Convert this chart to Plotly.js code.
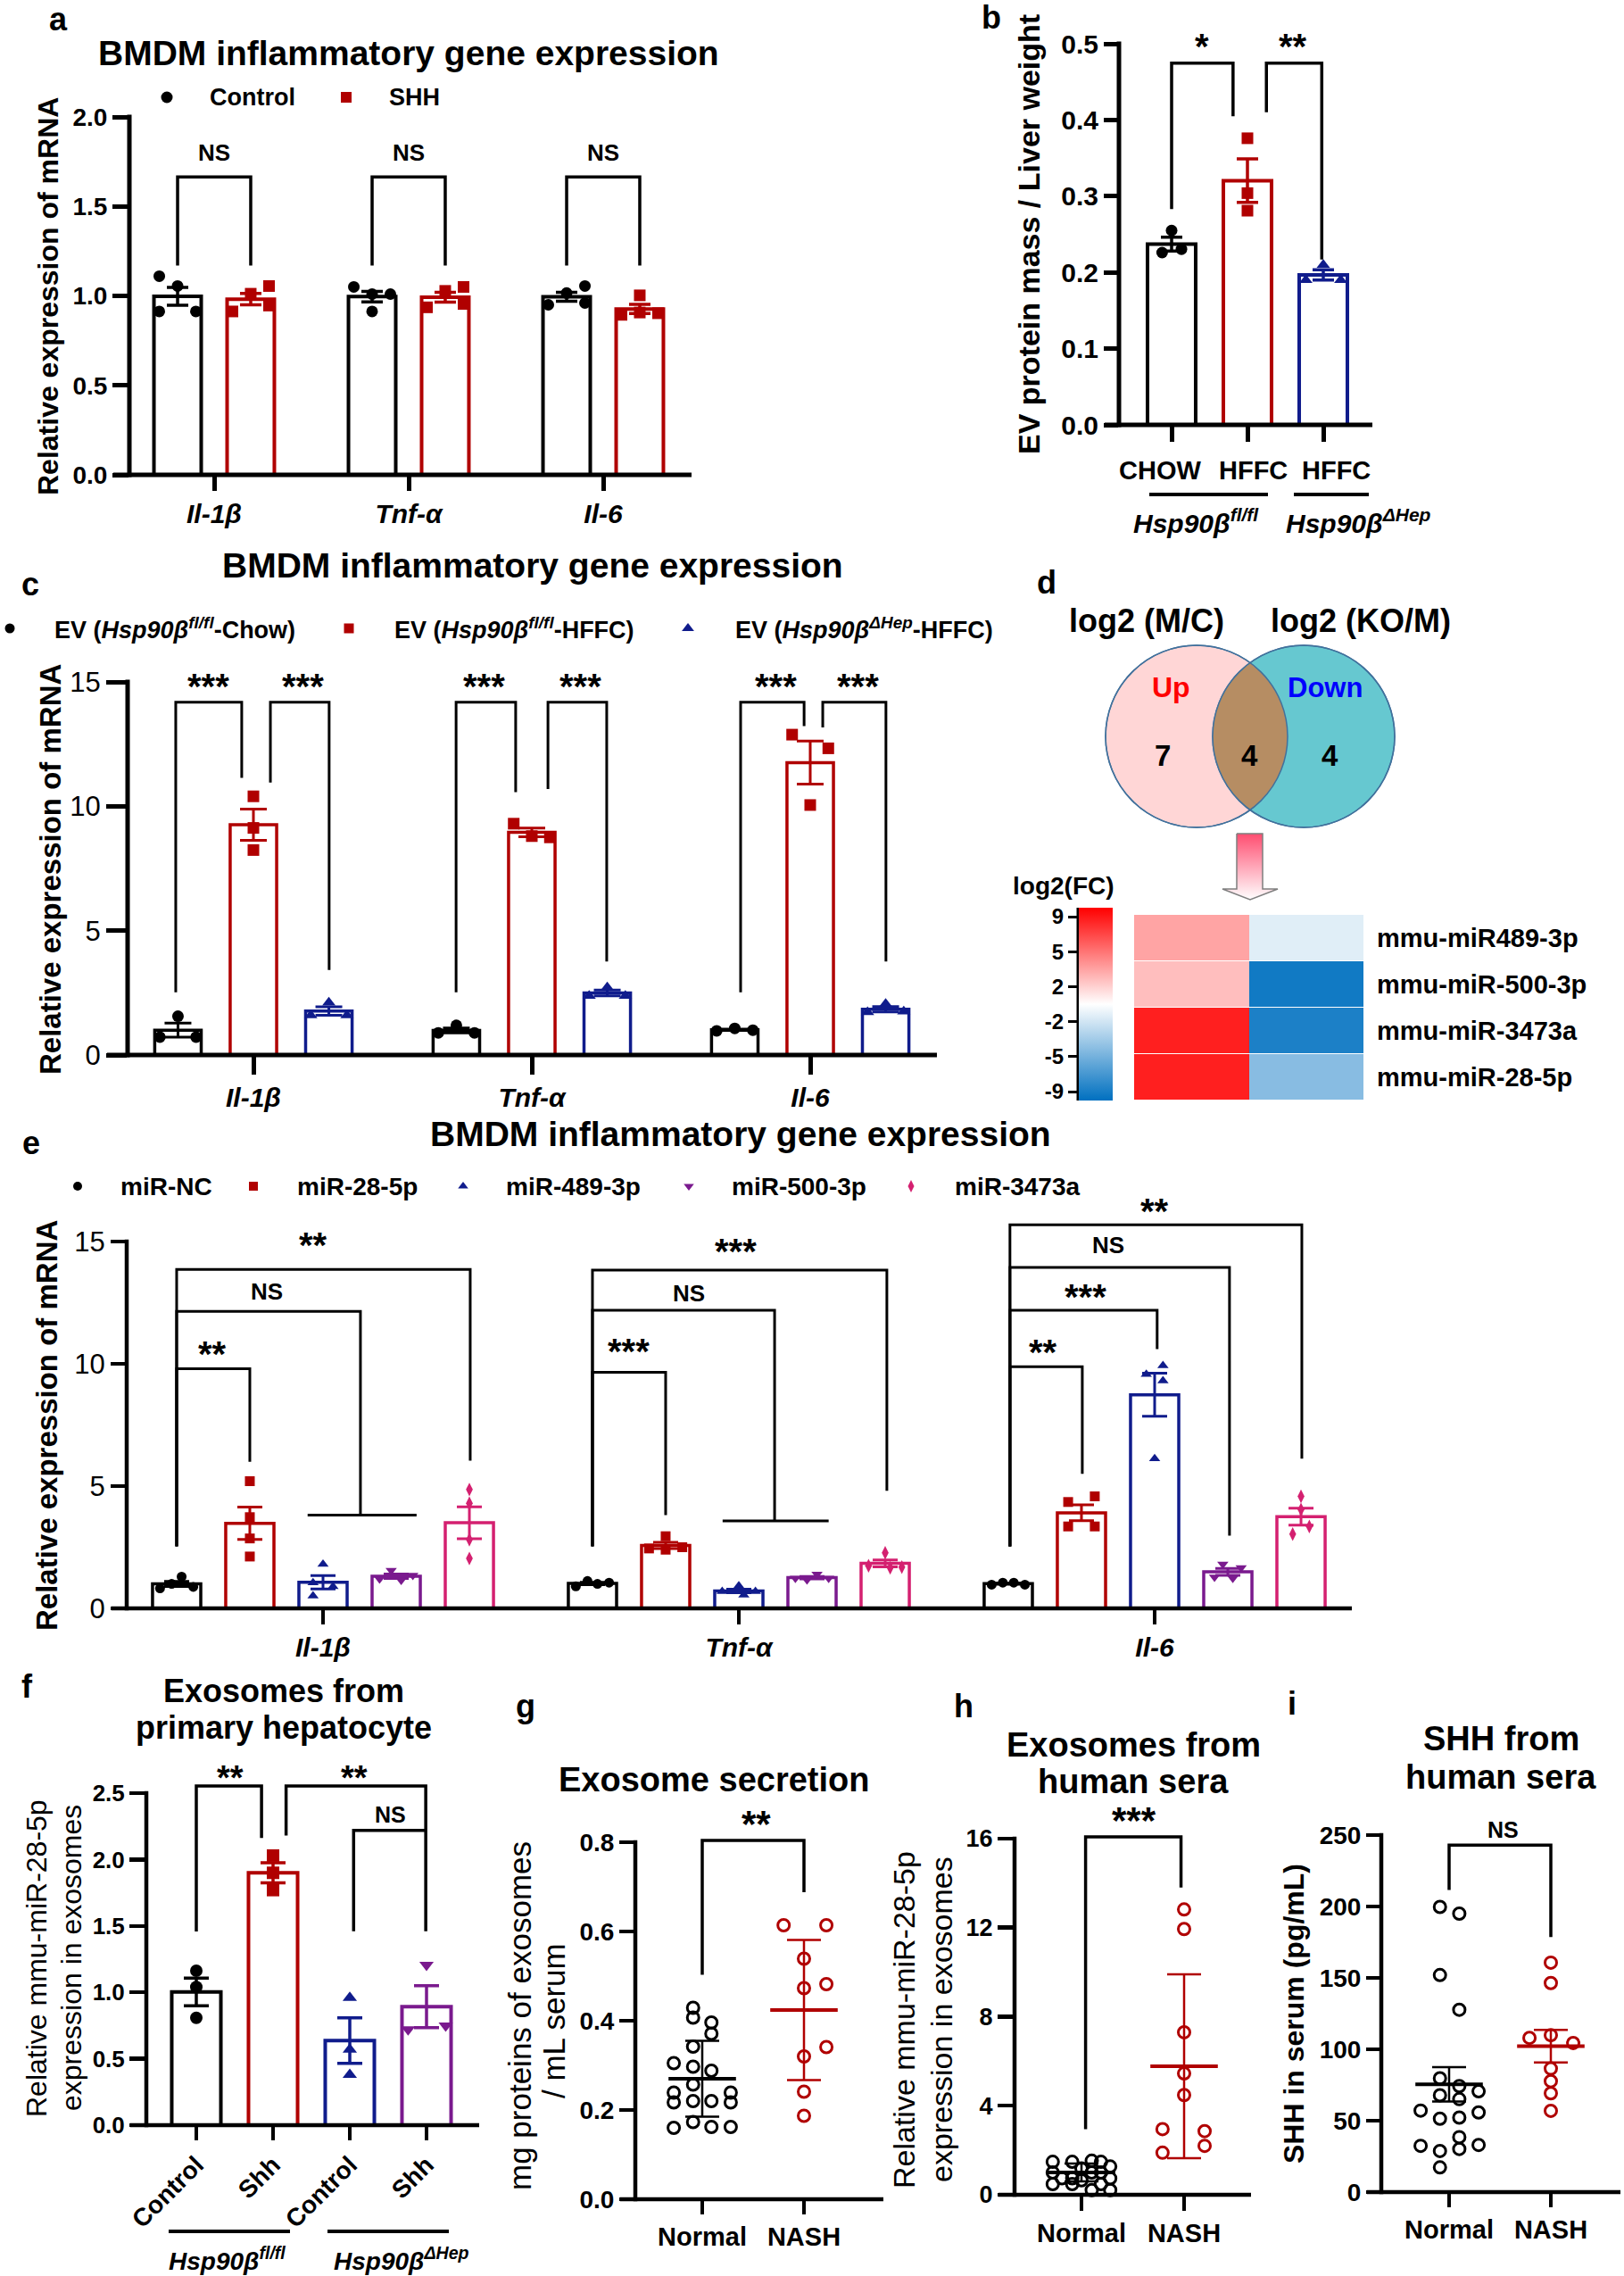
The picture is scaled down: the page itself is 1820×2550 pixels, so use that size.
<!DOCTYPE html>
<html><head><meta charset="utf-8">
<script src="https://cdn.plot.ly/plotly-3.0.1.min.js"></script>
<style>html,body{margin:0;padding:0;background:#fff}#fig{width:1820px;height:2550px}</style>
</head><body><div id="fig"></div>
<script>
/* ================= DATA ================= */
// panel a
const aGenes = ['Il-1β','Tnf-α','Il-6'];
const aLegend = ['Control','SHH'];
const aControl = [[1.11,1.055,0.913,0.913],[1.05,1.01,1.01,0.913],[0.95,1.016,1.055,0.96]];
const aSHH = [[0.913,1.012,1.055,0.946],[0.936,1.028,1.05,0.955],[0.894,1.003,0.907,0.903]];
const aYTicks = [0,0.5,1.0,1.5,2.0];
const aSig = ['NS','NS','NS'];
// panel b
const bGroups = ['CHOW','HFFC','HFFC'];
const bGenotypes = ['Hsp90β|fl/fl','Hsp90β|ΔHep'];
const bValues = [[0.255,0.226,0.2305],[0.376,0.304,0.281],[0.210,0.190,0.190]];
const bYTicks = [0,0.1,0.2,0.3,0.4,0.5];
const bSig = ['*','**'];
// panel c
const cGenes = ['Il-1β','Tnf-α','Il-6'];
const cLegend = ['EV (<i>Hsp90β</i><sup><i>fl/fl</i></sup>-Chow)','EV (<i>Hsp90β</i><sup><i>fl/fl</i></sup>-HFFC)','EV (<i>Hsp90β</i><sup><i>ΔHep</i></sup>-HFFC)'];
const cChow = [[1.56,0.72,0.72],[1.19,0.89,0.89],[0.97,1.07,1.0]];
const cHFFC = [[10.4,9.13,8.24],[9.3,8.8,8.75],[12.88,12.33,10.05]];
const cKO = [[2.11,1.60,1.60],[2.72,2.38,2.38],[2.05,1.72,1.75]];
const cYTicks = [0,5,10,15];
const cSig = ['***','***','***','***','***','***'];
// panel d
const dSets = ['log2 (M/C)','log2 (KO/M)'];
const dSetTags = ['Up','Down'];
const dVennCounts = [7,4,4];
const dMiRNAs = ['mmu-miR489-3p','mmu-miR-500-3p','mmu-miR-3473a','mmu-miR-28-5p'];
const dLog2MC = [3.2,2.3,7.9,7.9];
const dLog2KOM = [-1.1,-8.4,-8.0,-4.2];
const dScaleLabels = ['9','5','2','-2','-5','-9'];
// panel e
const eGenes = ['Il-1β','Tnf-α','Il-6'];
const eLegend = ['miR-NC','miR-28-5p','miR-489-3p','miR-500-3p','miR-3473a'];
const eNC = [[0.82,1.0,1.3,0.88],[1.12,1.0,1.05,0.9],[0.97,1.05,1.05,0.97]];
const e28 = [[5.2,3.73,2.86,2.12],[2.95,2.45,2.5,2.4],[4.35,4.58,3.35,3.35]];
const e489 = [[1.81,1.05,0.89,0.51],[0.92,0.69,0.69,0.55],[9.93,9.57,9.31,6.12]];
const e500 = [[1.55,1.35,1.2,1.15],[1.40,1.23,1.23,1.17],[1.81,1.66,1.28,1.23]];
const e3473 = [[4.86,4.30,2.81,2.04],[2.27,1.74,1.69,1.66],[4.58,4.04,3.04,3.35]];
const eYTicks = [0,5,10,15];
const eSig = ['**','NS','**','***','NS','***','**','***','NS','**'];
// panel f
const fGroups = ['Control','Shh','Control','Shh'];
const fGenotypes = ['Hsp90β|fl/fl','Hsp90β|ΔHep'];
const fValues = [[1.163,1.04,0.808],[2.03,1.90,1.77],[0.96,0.57,0.38],[1.207,0.72,0.75]];
const fYTicks = [0,0.5,1.0,1.5,2.0,2.5];
const fSig = ['**','**','NS'];
// panel g
const gGroups = ['Normal','NASH'];
const gNormal = [0.429,0.407,0.396,0.371,0.342,0.305,0.297,0.288,0.257,0.239,0.217,0.220,0.220,0.239,0.217,0.160,0.173,0.162,0.162];
const gNASH = [0.614,0.614,0.539,0.473,0.482,0.341,0.320,0.241,0.187];
const gMean = [0.270,0.424];
const gSD = [0.085,0.157];
const gYTicks = [0,0.2,0.4,0.6,0.8];
// panel h
const hGroups = ['Normal','NASH'];
const hNormal = [1.48,1.48,1.53,1.48,1.27,1.0,1.18,1.0,1.0,0.74,0.74,0.65,0.74,0.48,0.48,0.48,0.21,0.21];
const hNASH = [12.82,11.94,7.30,5.45,4.48,2.95,2.86,2.2,1.89];
const hMean = [1.0,5.77];
const hSD = [0.4,4.13];
const hYTicks = [0,4,8,12,16];
// panel i
const iGroups = ['Normal','NASH'];
const iNormal = [199.7,195,152,127.7,79.7,74.2,70.6,67.8,65.1,57.1,55.8,51.4,52.2,38.5,32.4,33,30.2,28.8,17.3];
const iNASH = [160.7,146.4,109.9,108,104.4,86.5,77.7,69.2,56.9];
const iMean = [75.5,102.2];
const iSEM = [12.0,11.4];
const iYTicks = [0,50,100,150,200,250];

/* ============ point spread (x offsets inside each column) ============ */
const aControlJit = [[-1,0,-1,1],[-1,0,1,0],[-1,0,1,1]];
const aSHHJit = [[-1,0,1,1],[-1,0,1,1],[-1,0,0,1]];
const bJit = [[0,-0.125,0.13],[0,0,0],[0,-0.23,0.23]];
const cChowJit = [[0,-1,1],[0,-1,1],[-1,0,1]];
const cHFFCJit = [[0,0,0],[-1,0,1],[-1,1,0]];
const cKOJit = [[0,-1,1],[0,-1,1],[0,-1,1]];
const eNCJit = [[-1,-0.3,0.3,1],[-0.3,0.3,1,-1],[-1,-0.33,0.33,1]];
const e28Jit = [[0,0,0,0],[0,-1,1,0],[-0.8,0.8,-0.8,0.8]];
const e489Jit = [[0,-0.6,0.6,-0.6],[0,-1,1,0.3],[0.5,-0.5,0.5,0]];
const e500Jit = [[-0.3,1,-1,0.3],[0.3,-1,1,-0.3],[-0.3,0.8,-0.8,0.3]];
const e3473Jit = [[0,0,0,0],[0,-1,1,0.3],[0,0,-0.5,0.5]];
const fJit = [[0,0,0],[0,0,0],[0,0,0],[0,-0.24,0.25]];
const gNormalJit = [-0.09,-0.09,0.09,0.09,-0.09,-0.28,-0.09,0.09,-0.09,-0.28,-0.28,-0.09,0.09,0.28,0.28,-0.28,-0.09,0.09,0.28];
const gNASHJit = [-0.2,0.22,0,0,0.22,0.22,0,0,0];
const hNormalJit = [-0.28,-0.09,0.1,0.19,0.28,-0.28,0,0.1,0.19,-0.19,-0.09,0,0.28,-0.28,-0.09,0.19,0.1,0.28];
const hNASHJit = [0,0,0,0,0,-0.21,0.2,0.2,-0.21];
const iNormalJit = [-0.09,0.1,-0.09,0.1,-0.09,0.1,0.29,-0.09,0.1,-0.28,0.29,-0.09,0.1,0.1,-0.28,0.29,0.1,-0.09,-0.09];
const iNASHJit = [0,0,0,-0.21,0.22,0,0,0,0];

/* ================= DRAWING ================= */
const W = 1820, H = 2550;
const FONT = 'Liberation Sans, Arial, Helvetica, sans-serif';
const BLACK = '#000000', RED = '#B00000', NAVY = '#101C8C', PURPLE = '#7A1A8E', PINK = '#D42070';
const traces = [];
const layout = {
  width: W, height: H, autosize: false, margin: {l:0, r:0, t:0, b:0},
  paper_bgcolor: '#ffffff', plot_bgcolor: 'rgba(0,0,0,0)', showlegend: false, hovermode: false,
  barmode: 'overlay', font: {family: FONT, color: '#000000'}, shapes: [], annotations: []
};
layout.xaxis99 = {domain:[0,1], range:[0,W], visible:false, fixedrange:true, anchor:'y99'};
layout.yaxis99 = {domain:[0,1], range:[H,0], visible:false, fixedrange:true, anchor:'x99'};

const B = t => '<b>' + t + '</b>';
const BI = t => '<b><i>' + t + '</i></b>';
function mean(a){ return a.reduce((s,v)=>s+v,0)/a.length; }
function sem(a){ const m = mean(a); return Math.sqrt(a.reduce((s,v)=>s+(v-m)*(v-m),0)/(a.length-1))/Math.sqrt(a.length); }
function line(x0,y0,x1,y1,w,c){ layout.shapes.push({type:'line', xref:'x99', yref:'y99', x0, y0, x1, y1, line:{color:c||'#000', width:w}, layer:'above'}); }
function txt(x,y,text,size,o){ o = o||{}; layout.annotations.push({xref:'x99', yref:'y99', x, y, text, showarrow:false,
  font:{family:FONT, size, color:o.color||'#000'}, xanchor:o.xa||'center', yanchor:'middle', textangle:o.angle||0}); }
// significance label placed through the panel's own scale (converted to page pixels so it is never hidden)
function sig(g, x, y, text, size){
  const px = g.x0 + x*g.unit, py = g.B - y*(g.B - g.T)/g.yTop;
  const down = text.indexOf('*') >= 0 ? 0.17*size : 0;
  txt(px, py + down, B(text), size);
}
function legendMarker(x,y,symbol,color,size){ traces.push({type:'scatter', mode:'markers', xaxis:'x99', yaxis:'y99', x:[x], y:[y],
  marker:{symbol, color, size, line:{width:0}}, hoverinfo:'skip'}); }
function genoLabel(s){ const p = s.split('|'); return '<b><i>' + p[0] + '</i></b><sup><b><i>' + p[1] + '</i></b></sup>'; }

function setupAxes(n, g, o){
  const ppu = (g.B - g.T)/g.yTop, topPx = g.B - g.yMax*ppu;
  const fmt = v => { const s = v.toFixed(o.ydec); return o.ybold ? B(s) : s; };
  layout['xaxis'+n] = {domain:[g.L/W, g.R/W], range:[(g.L-g.x0)/g.unit, (g.R-g.x0)/g.unit], anchor:'y'+n,
    showgrid:false, zeroline:false, showline:false, tickmode:'array', tickvals:o.xtext.map((_,i)=>i), ticktext:o.xtext,
    showticklabels:!o.hideX,
    ticks:'outside', ticklen:g.xtl, tickwidth:g.lw, tickcolor:'#000', tickangle:o.xangle||0,
    tickfont:{family:FONT, size:o.xsize, color:'#000'}, ticklabelstandoff:o.xstand||0, fixedrange:true};
  layout['yaxis'+n] = {domain:[1-g.B/H, 1-topPx/H], range:[0, g.yMax], anchor:'x'+n,
    showgrid:false, zeroline:false, showline:false, tickmode:'array', tickvals:o.yticks, ticktext:o.yticks.map(fmt),
    ticks:'outside', ticklen:g.ytl, tickwidth:g.lw, tickcolor:'#000',
    tickfont:{family:FONT, size:o.ysize, color:'#000'}, fixedrange:true};
  line(g.L, g.B + g.lw/2, g.L, g.T - g.lw/2, g.lw);
  line(g.L - g.ytl, g.B, g.R, g.B, g.lw);
}
function barPanel(n, series, o){
  series.forEach(s => {
    traces.push({type:'bar', xaxis:'x'+n, yaxis:'y'+n, x:s.vals.map((_,i)=>i+s.offset), y:s.vals.map(mean), width:o.bw,
      marker:{color:'#ffffff', line:{color:s.color, width:o.bl}},
      error_y:{type:'data', array:s.vals.map(sem), color:s.color, thickness:o.et, width:o.ew, visible:true}, hoverinfo:'skip'});
  });
  series.forEach(s => {
    const x = [], y = [];
    s.vals.forEach((arr,i) => arr.forEach((v,k) => { x.push(i + s.offset + s.jit[i][k]*o.js); y.push(v); }));
    traces.push({type:'scatter', mode:'markers', xaxis:'x'+n, yaxis:'y'+n, x, y, cliponaxis:false,
      marker:{symbol:s.symbol, color:s.color, size:o.ms, line:{width:0}}, hoverinfo:'skip'});
  });
}
function dotPanel(n, groups, o){
  groups.forEach((s,gi) => {
    traces.push({type:'scatter', mode:'markers', xaxis:'x'+n, yaxis:'y'+n, x:s.vals.map((v,k)=>gi+s.jit[k]), y:s.vals, cliponaxis:false,
      marker:{symbol:'circle-open', color:s.color, size:o.ms, line:{width:o.ml, color:s.color}}, hoverinfo:'skip'});
  });
  groups.forEach((s,gi) => {
    traces.push({type:'scatter', mode:'markers', xaxis:'x'+n, yaxis:'y'+n, x:[gi], y:[s.mean], cliponaxis:false,
      marker:{symbol:'line-ew-open', color:s.color, size:o.mw, line:{width:o.mt, color:s.color}},
      error_y:{type:'data', array:[s.err], color:s.color, thickness:o.et, width:o.cw, visible:true}, hoverinfo:'skip'});
  });
}
function brackets(n, list, w){
  const x = [], y = [];
  list.forEach(b => { x.push(b[0], b[0], b[1], b[1], null); y.push(b[3], b[2], b[2], b[4], null); });
  traces.push({type:'scatter', mode:'lines', xaxis:'x'+n, yaxis:'y'+n, x, y, line:{color:'#000', width:w}, hoverinfo:'skip'});
}

const G = {
  a:{L:145, R:775, B:532, T:131, yTop:2, yMax:2, x0:240, unit:218, lw:5, ytl:18, xtl:17},
  b:{L:1254, R:1538, B:476, T:49, yTop:0.5, yMax:0.5, x0:1313, unit:85, lw:5, ytl:16, xtl:18},
  c:{L:143, R:1050, B:1182, T:764, yTop:15, yMax:15, x0:284, unit:312, lw:5, ytl:23, xtl:21},
  e:{L:142, R:1515, B:1802, T:1391, yTop:15, yMax:16, x0:362, unit:466, lw:4.5, ytl:17, xtl:17},
  f:{L:164, R:537, B:2381, T:2009, yTop:2.5, yMax:2.6, x0:220, unit:86, lw:4.5, ytl:18, xtl:16},
  g:{L:712, R:990, B:2464, T:2064, yTop:0.8, yMax:0.82, x0:787, unit:114, lw:4.5, ytl:17, xtl:16},
  h:{L:1137, R:1402, B:2459, T:2060, yTop:16, yMax:16.3, x0:1212, unit:115, lw:4.5, ytl:18, xtl:17},
  i:{L:1548, R:1816, B:2456, T:2056, yTop:250, yMax:250, x0:1624, unit:114, lw:4.5, ytl:16, xtl:16}
};

/* ---- panel a ---- */
setupAxes(1, G.a, {xtext:aGenes.map(BI), xsize:30, yticks:aYTicks, ydec:1, ybold:true, ysize:28});
barPanel(1, [
  {vals:aControl, jit:aControlJit, offset:-0.188, color:BLACK, symbol:'circle'},
  {vals:aSHH, jit:aSHHJit, offset:0.188, color:RED, symbol:'square'}
], {bw:0.243, bl:4, et:3.5, ew:12, js:0.094, ms:13});
brackets(1, aGenes.map((_,i)=>[i-0.188, i+0.188, 1.665, 1.17, 1.17]), 3.5);
aSig.forEach((s,i)=>sig(G.a, i, 1.80, s, 26));
txt(65, 21, B('a'), 36);
txt(458, 59, B('BMDM inflammatory gene expression'), 39);
txt(54, 332, B('Relative expression of mRNA'), 32, {angle:-90});
legendMarker(187, 109, 'circle', BLACK, 13); txt(233, 109, B(aLegend[0]), 27, {xa:'left'});
legendMarker(388, 109, 'square', RED, 12); txt(434, 109, B(aLegend[1]), 27, {xa:'left'});

/* ---- panel b ---- */
setupAxes(2, G.b, {xtext:bGroups.map(B), xsize:29, hideX:true, yticks:bYTicks, ydec:1, ybold:true, ysize:30});
const bColors = [BLACK, RED, NAVY], bSymbols = ['circle','square','triangle-up'];
barPanel(2, bValues.map((v,k)=>({vals:[v], jit:[bJit[k]], offset:k, color:bColors[k], symbol:bSymbols[k]})),
  {bw:0.635, bl:4, et:3.5, ew:12, js:1, ms:13});
brackets(2, [[0, 0.81, 0.4745, 0.283, 0.405], [1.25, 1.98, 0.4745, 0.41, 0.217]], 3.5);
sig(G.b, 0.4, 0.5047, bSig[0], 40); sig(G.b, 1.6, 0.5047, bSig[1], 40);
[1300, 1404, 1497].forEach((x,k)=>txt(x, 527, B(bGroups[k]), 29));
txt(1111, 19, B('b'), 36);
txt(1153, 263, B('EV protein mass / Liver weight'), 34, {angle:-90});
line(1288, 554, 1421, 554, 4); line(1450, 554, 1534, 554, 4);
txt(1340, 584, genoLabel(bGenotypes[0]), 30); txt(1522, 584, genoLabel(bGenotypes[1]), 30);

/* ---- panel c ---- */
setupAxes(3, G.c, {xtext:cGenes.map(BI), xsize:30, yticks:cYTicks, ydec:0, ybold:false, ysize:31});
barPanel(3, [
  {vals:cChow, jit:cChowJit, offset:-0.271, color:BLACK, symbol:'circle'},
  {vals:cHFFC, jit:cHFFCJit, offset:0, color:RED, symbol:'square'},
  {vals:cKO, jit:cKOJit, offset:0.271, color:NAVY, symbol:'triangle-up'}
], {bw:0.167, bl:3.5, et:3, ew:15, js:0.065, ms:13});
brackets(3, [
  [-0.279, -0.042, 14.18, 2.52, 11.14], [0.061, 0.272, 14.18, 10.95, 3.42],
  [0.728, 0.942, 14.18, 2.52, 10.57], [1.058, 1.269, 14.18, 10.69, 3.76],
  [1.75, 1.978, 14.18, 2.52, 13.22], [2.045, 2.272, 14.18, 13.17, 3.76]
], 3);
[-0.163, 0.179, 0.827, 1.176, 1.875, 2.173].forEach((x,k)=>sig(G.c, x, 15.07, cSig[k], 40));
txt(34, 654, B('c'), 36);
txt(597, 633, B('BMDM inflammatory gene expression'), 39);
txt(56, 974, B('Relative expression of mRNA'), 33, {angle:-90});
legendMarker(11, 704, 'circle', BLACK, 11); txt(59, 704, B(cLegend[0]), 27, {xa:'left'});
legendMarker(391, 704, 'square', RED, 11); txt(440, 704, B(cLegend[1]), 27, {xa:'left'});
legendMarker(771, 704, 'triangle-up', NAVY, 12); txt(822, 704, B(cLegend[2]), 27, {xa:'left'});

/* ---- panel d ---- */
txt(1173, 652, B('d'), 36);
txt(1285, 695, B(dSets[0]), 36); txt(1525, 695, B(dSets[1]), 36);
(function(){
  const cy = 825, r = 102, cxL = 1341, cxR = 1461, half = (cxR-cxL)/2, a = Math.acos(half/r);
  const circ = (cx, fill) => ({type:'circle', xref:'x99', yref:'y99', x0:cx-r, x1:cx+r, y0:cy-r, y1:cy+r,
    fillcolor:fill, line:{color:'#41719C', width:1.5}, layer:'above'});
  layout.shapes.push(circ(cxL, '#FFD6D6'));
  layout.shapes.push(circ(cxR, '#66C8D0'));
  const pts = [];
  for (let i=0;i<=40;i++){ const t = -a + 2*a*i/40; pts.push([cxR - r*Math.cos(t), cy + r*Math.sin(t)]); }
  for (let i=0;i<=40;i++){ const t = a - 2*a*i/40; pts.push([cxL + r*Math.cos(t), cy + r*Math.sin(t)]); }
  layout.shapes.push({type:'path', xref:'x99', yref:'y99', path:'M'+pts.map(p=>p[0].toFixed(2)+','+p[1].toFixed(2)).join('L')+'Z',
    fillcolor:'#B68D63', line:{width:0}, layer:'above'});
  layout.shapes.push(circ(cxL, 'rgba(0,0,0,0)'));
  layout.shapes.push(circ(cxR, 'rgba(0,0,0,0)'));
})();
txt(1312, 770, B(dSetTags[0]), 32, {color:'#FF0000'});
txt(1485, 770, B(dSetTags[1]), 31, {color:'#0000FF'});
txt(1303, 846, B(String(dVennCounts[0])), 33);
txt(1400, 846, B(String(dVennCounts[1])), 33);
txt(1490, 846, B(String(dVennCounts[2])), 33);
traces.push({type:'scatter', mode:'lines', xaxis:'x99', yaxis:'y99',
  x:[1386,1415,1415,1432,1401,1370,1386,1386], y:[934,934,996,996,1008,996,996,934],
  fill:'toself', fillcolor:'#FF9AAA', fillgradient:{type:'vertical', colorscale:[[0,'#FF4D70'],[1,'#FFFFFF']], start:934, stop:1008},
  line:{color:'#7F7F7F', width:1.5}, hoverinfo:'skip'});
layout.xaxis20 = {domain:[1271/W, 1528/W], range:[-0.5, 1.5], anchor:'y20', visible:false, fixedrange:true};
layout.yaxis20 = {domain:[1-1233/H, 1-1025/H], range:[3.5, -0.5], anchor:'x20', side:'right', tickmode:'array',
  tickvals:dMiRNAs.map((_,i)=>i), ticktext:dMiRNAs.map(B), ticks:'', showline:false, showgrid:false, zeroline:false,
  tickfont:{family:FONT, size:29, color:'#000'}, ticklabelstandoff:14, fixedrange:true};
traces.push({type:'heatmap', xaxis:'x20', yaxis:'y20', x:[0,1], y:dMiRNAs.map((_,i)=>i),
  z:dMiRNAs.map((_,i)=>[dLog2MC[i], dLog2KOM[i]]), zmin:-9, zmax:9, ygap:1,
  colorscale:[[0,'#0070C0'],[0.5,'#FFFFFF'],[1,'#FF0000']],
  colorbar:{x:1209/W, xanchor:'left', xref:'paper', y:1-1233/H, yanchor:'bottom', yref:'paper', len:216, lenmode:'pixels',
    thickness:38, thicknessmode:'pixels', xpad:0, ypad:0, outlinewidth:0, ticks:'', showticklabels:false}, hoverinfo:'skip'});
layout.xaxis21 = {domain:[1208/W, 1209/W], range:[0,1], anchor:'y21', visible:false, fixedrange:true};
layout.yaxis21 = {domain:[1-1223/H, 1-1027/H], range:[-9, 9], anchor:'x21', side:'left', tickmode:'array',
  tickvals:dScaleLabels.map((_,i)=>9 - i*18/(dScaleLabels.length-1)), ticktext:dScaleLabels.map(B),
  ticks:'outside', ticklen:10, tickwidth:3, tickcolor:'#000', showline:false, showgrid:false, zeroline:false,
  tickfont:{family:FONT, size:24, color:'#000'}, fixedrange:true};
traces.push({type:'scatter', mode:'markers', xaxis:'x21', yaxis:'y21', x:[], y:[], hoverinfo:'skip'});
line(1208, 1017, 1208, 1233, 3);
txt(1192, 992, B('log2(FC)'), 28);

/* ---- panel e ---- */
setupAxes(4, G.e, {xtext:eGenes.map(BI), xsize:30, yticks:eYTicks, ydec:0, ybold:false, ysize:31});
barPanel(4, [
  {vals:eNC, jit:eNCJit, offset:-0.352, color:BLACK, symbol:'circle'},
  {vals:e28, jit:e28Jit, offset:-0.176, color:RED, symbol:'square'},
  {vals:e489, jit:e489Jit, offset:0, color:NAVY, symbol:'triangle-up'},
  {vals:e500, jit:e500Jit, offset:0.176, color:PURPLE, symbol:'triangle-down'},
  {vals:e3473, jit:e3473Jit, offset:0.352, color:PINK, symbol:'diamond-tall'}
], {bw:0.116, bl:3.5, et:3, ew:14, js:0.04, ms:11});
brackets(4, [
  [-0.352, -0.176, 9.80, 2.54, 5.99], [-0.352, 0.09, 12.14, 2.54, 3.81], [-0.037, 0.225, 3.81, 3.81, 3.81], [-0.352, 0.354, 13.86, 2.54, 6.04],
  [0.648, 0.824, 9.65, 2.54, 3.81], [0.648, 1.086, 12.19, 2.54, 3.58], [0.961, 1.216, 3.58, 3.58, 3.58], [0.648, 1.356, 13.83, 2.54, 4.81],
  [1.652, 1.826, 9.88, 2.54, 5.5], [1.652, 2.006, 12.19, 2.54, 10.6], [1.652, 2.18, 13.94, 2.54, 2.97], [1.652, 2.354, 15.68, 2.54, 6.12]
], 3);
[[-0.266,10.65],[-0.135,12.96],[-0.024,15.1],[0.735,10.76],[0.88,12.9],[0.992,14.85],
 [1.732,10.73],[1.834,13.0],[1.888,14.85],[2.0,16.49]].forEach((t,k) =>
  sig(G.e, t[0], t[1], eSig[k], eSig[k]==='NS' ? 26 : 40));
txt(35, 1280, B('e'), 36);
txt(830, 1270, B('BMDM inflammatory gene expression'), 39);
txt(52, 1597, B('Relative expression of mRNA'), 33, {angle:-90});
const eSymbols = ['circle','square','triangle-up','triangle-down','diamond-tall'];
const eColors = [BLACK, RED, NAVY, PURPLE, PINK];
const eMX = [87, 284, 519, 772, 1021], eTX = [133, 331, 565, 818, 1068];
eLegend.forEach((t,k)=>{ legendMarker(eMX[k], 1329, eSymbols[k], eColors[k], 10); txt(eTX[k], 1329, B(t), 28, {xa:'left'}); });

/* ---- panel f ---- */
setupAxes(5, G.f, {xtext:fGroups.map(B), xsize:28, xangle:-45, yticks:fYTicks, ydec:1, ybold:true, ysize:26});
const fColors = [BLACK, RED, NAVY, PURPLE], fSymbols = ['circle','square','triangle-up','triangle-down'];
barPanel(5, fValues.map((v,k)=>({vals:[v], jit:[fJit[k]], offset:k, color:fColors[k], symbol:fSymbols[k]})),
  {bw:0.64, bl:4, et:3.5, ew:14, js:1, ms:14});
brackets(5, [[0, 0.85, 2.553, 1.459, 2.163], [1.17, 2.99, 2.553, 2.18, 1.46], [2.05, 2.99, 2.22, 1.46, 2.22]], 3.5);
sig(G.f, 0.44, 2.657, fSig[0], 38); sig(G.f, 2.06, 2.657, fSig[1], 38); sig(G.f, 2.53, 2.34, fSig[2], 25);
txt(30, 1889, B('f'), 36);
txt(318, 1894, B('Exosomes from'), 36); txt(318, 1935, B('primary hepatocyte'), 36);
txt(41, 2194, 'Relative mmu-miR-28-5p', 32, {angle:-90}); txt(80, 2194, 'expression in exosomes', 32, {angle:-90});
line(189, 2500, 325, 2500, 4); line(367, 2500, 503, 2500, 4);
txt(254, 2531, genoLabel(fGenotypes[0]), 28); txt(450, 2531, genoLabel(fGenotypes[1]), 28);

/* ---- panel g ---- */
const dotOpts = {ms:13, ml:3, mw:54, mt:4, et:2.5, cw:19};
setupAxes(6, G.g, {xtext:gGroups.map(B), xsize:29, yticks:gYTicks, ydec:1, ybold:true, ysize:28});
dotPanel(6, [{vals:gNormal, jit:gNormalJit, color:BLACK, mean:gMean[0], err:gSD[0]},
             {vals:gNASH, jit:gNASHJit, color:RED, mean:gMean[1], err:gSD[1]}], dotOpts);
brackets(6, [[0, 1, 0.804, 0.503, 0.688]], 3.5);
sig(G.g, 0.53, 0.856, '**', 42);
txt(589, 1911, B('g'), 36);
txt(800, 1994, B('Exosome secretion'), 38);
txt(582, 2259, 'mg proteins of exosomes', 35, {angle:-90}); txt(620, 2264, '/ mL serum', 35, {angle:-90});

/* ---- panel h ---- */
setupAxes(7, G.h, {xtext:hGroups.map(B), xsize:29, yticks:hYTicks, ydec:0, ybold:true, ysize:27});
dotPanel(7, [{vals:hNormal, jit:hNormalJit, color:BLACK, mean:hMean[0], err:hSD[0]},
             {vals:hNASH, jit:hNASHJit, color:RED, mean:hMean[1], err:hSD[1]}], dotOpts);
brackets(7, [[0.04, 0.97, 16.08, 2.95, 13.8]], 3.5);
sig(G.h, 0.51, 17.1, '***', 42);
txt(1080, 1911, B('h'), 36);
txt(1270, 1955, B('Exosomes from'), 38); txt(1270, 1996, B('human sera'), 38);
txt(1013, 2263, 'Relative mmu-miR-28-5p', 34, {angle:-90}); txt(1055, 2263, 'expression in exosomes', 34, {angle:-90});

/* ---- panel i ---- */
setupAxes(8, G.i, {xtext:iGroups.map(B), xsize:29, yticks:iYTicks, ydec:0, ybold:true, ysize:28});
dotPanel(8, [{vals:iNormal, jit:iNormalJit, color:BLACK, mean:iMean[0], err:iSEM[0]},
             {vals:iNASH, jit:iNASHJit, color:RED, mean:iMean[1], err:iSEM[1]}], dotOpts);
brackets(8, [[0, 1.0, 243, 211.5, 178.6]], 3.5);
sig(G.i, 0.53, 253.6, 'NS', 25);
txt(1448, 1908, B('i'), 36);
txt(1682, 1948, B('SHH from'), 38); txt(1682, 1991, B('human sera'), 38);
txt(1450, 2256, B('SHH in serum (pg/mL)'), 32, {angle:-90});

Plotly.newPlot('fig', traces, layout, {staticPlot:true, displayModeBar:false});
</script></body></html>
